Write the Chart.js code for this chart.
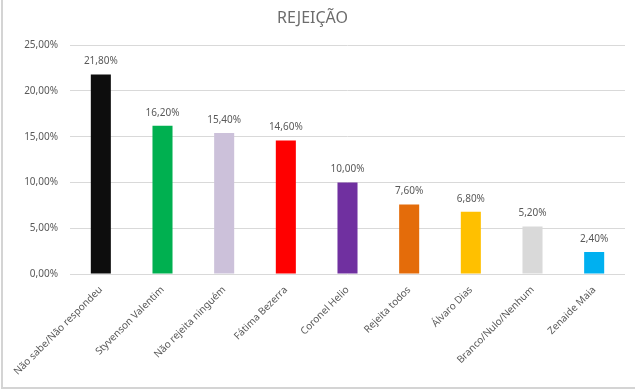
<!DOCTYPE html>
<html>
<head>
<meta charset="utf-8">
<script src="https://cdn.jsdelivr.net/npm/chart.js@4"></script>
<style>
    html, body { margin: 0; padding: 0; background: #fff; }
    #wrap { width: 635px; height: 390px; position: relative; }
</style>
</head>
<body>
<div id="wrap"><canvas id="chartRejeicao" width="635" height="390"></canvas></div>
<script>
// Data
const categorias = [
    'Não sabe/Não respondeu',
    'Styvenson Valentim',
    'Não rejeita ninguém',
    'Fátima Bezerra',
    'Coronel Helio',
    'Rejeita todos',
    'Álvaro Dias',
    'Branco/Nulo/Nenhum',
    'Zenaide Maia'
];
const valores = [21.8, 16.2, 15.4, 14.6, 10.0, 7.6, 6.8, 5.2, 2.4];
const cores = ['#0d0d0d', '#00b050', '#ccc1da', '#ff0000', '#7030a0', '#e46c0a', '#ffc000', '#d9d9d9', '#00b0f0'];
const ticksY = [0, 5, 10, 15, 20, 25];

const fonte = "'Noto Sans', 'Open Sans', sans-serif";
const corTexto = '#595959';

function formatPct(v) {
    return v.toFixed(2).replace('.', ',') + '%';
}

// Value labels above each bar
const rotulosPlugin = {
    id: 'rotulos',
    afterDatasetsDraw(chart) {
        const ctx = chart.ctx;
        const meta = chart.getDatasetMeta(0);
        ctx.save();
        ctx.font = '10px ' + fonte;
        ctx.fillStyle = corTexto;
        ctx.textAlign = 'center';
        ctx.textBaseline = 'middle';
        meta.data.forEach((bar, i) => {
            ctx.fillText(formatPct(valores[i]), bar.x, bar.y - 13);
        });
        ctx.restore();
    }
};

// Light frame on the left and bottom edges
const molduraPlugin = {
    id: 'moldura',
    afterDraw(chart) {
        const ctx = chart.ctx;
        ctx.save();
        ctx.strokeStyle = '#d4d4d4';
        ctx.lineWidth = 2;
        ctx.beginPath();
        ctx.moveTo(2, 0);
        ctx.lineTo(2, 388);
        ctx.lineTo(635, 388);
        ctx.stroke();
        ctx.restore();
    }
};

const ctx = document.getElementById('chartRejeicao').getContext('2d');
new Chart(ctx, {
    type: 'bar',
    data: {
        labels: categorias,
        datasets: [{
            data: valores,
            backgroundColor: cores,
            borderWidth: 0,
            barPercentage: 0.325,
            categoryPercentage: 1
        }]
    },
    options: {
        responsive: false,
        animation: false,
        layout: { padding: { left: 0, right: 10, top: 0, bottom: 0 } },
        plugins: {
            legend: { display: false },
            tooltip: { enabled: false },
            title: {
                display: true,
                text: 'REJEIÇÃO',
                color: '#6d6d6d',
                font: { family: fonte, size: 16, weight: 'normal', lineHeight: 1.2 },
                padding: { top: 9, bottom: 17 }
            }
        },
        scales: {
            x: {
                grid: { display: false },
                border: { display: false },
                ticks: {
                    color: corTexto,
                    font: { family: fonte, size: 10 },
                    maxRotation: 45,
                    minRotation: 45,
                    autoSkip: false,
                    padding: 2
                },
                afterFit(scale) { scale.height = 116; }
            },
            y: {
                min: 0,
                max: 25,
                afterBuildTicks(scale) {
                    scale.ticks = ticksY.map(v => ({ value: v }));
                },
                grid: { color: '#d9d9d9', lineWidth: 1, drawTicks: false },
                border: { display: false },
                ticks: {
                    color: corTexto,
                    font: { family: fonte, size: 10 },
                    padding: 12,
                    callback: v => formatPct(v)
                },
                afterFit(scale) { scale.width = 70; }
            }
        }
    },
    plugins: [rotulosPlugin, molduraPlugin]
});
</script>
</body>
</html>
